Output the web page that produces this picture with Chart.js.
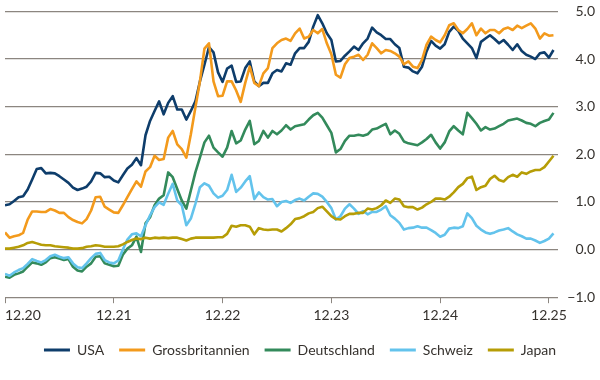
<!DOCTYPE html>
<html>
<head>
<meta charset="utf-8">
<script src="https://cdn.jsdelivr.net/npm/chart.js@4.4.1/dist/chart.umd.min.js"></script>
<style>
  html, body { margin: 0; padding: 0; background: #fff; }
  #wrap { width: 600px; height: 380px; }
</style>
</head>
<body>
<div id="wrap"><canvas id="chart" width="600" height="380"></canvas></div>
<script>
// half-monthly points, index 0 = 12.20
const tickPositions = [0, 24, 48, 72, 96, 120];
const tickLabels    = ['12.20', '12.21', '12.22', '12.23', '12.24', '12.25'];
const seriesNames   = ['USA', 'Grossbritannien', 'Deutschland', 'Schweiz', 'Japan'];

const usa = [
  0.93,0.95,1.02,1.10,1.12,1.26,1.47,1.69,1.71,1.60,1.61,1.60,1.54,1.47,1.40,1.30,1.25,1.28,1.32,1.43,1.61,1.60,1.52,1.53,1.45,
  1.41,1.56,1.70,1.78,1.92,1.77,2.40,2.70,2.91,3.11,2.84,3.08,3.22,2.94,2.94,2.73,2.91,3.11,3.53,3.88,4.25,4.14,3.72,3.52,
  3.80,3.86,3.52,3.53,3.81,3.95,3.53,3.43,3.50,3.50,3.70,3.77,3.74,3.91,3.88,4.12,4.23,4.23,4.36,4.68,4.92,4.75,4.54,4.40,
  3.95,3.96,4.07,4.16,4.26,4.19,4.33,4.43,4.66,4.56,4.50,4.42,4.42,4.31,4.23,3.84,3.82,3.74,3.70,3.84,4.16,4.38,4.28,4.22,
  4.31,4.57,4.68,4.59,4.43,4.33,4.23,4.02,4.36,4.43,4.50,4.42,4.33,4.40,4.30,4.19,4.31,4.17,4.09,4.05,4.00,4.12,4.14,4.03,4.19
];
const uk = [
  0.36,0.25,0.28,0.30,0.35,0.63,0.80,0.80,0.79,0.79,0.85,0.82,0.77,0.77,0.68,0.62,0.58,0.55,0.64,0.82,1.10,1.11,0.90,0.84,0.78,
  0.77,0.93,1.10,1.27,1.43,1.32,1.64,1.73,1.97,1.88,1.90,2.35,2.49,2.21,2.11,1.93,2.42,2.98,3.53,4.22,4.33,3.53,3.22,3.23,
  3.53,3.53,3.34,3.10,3.50,3.84,3.50,3.43,3.70,3.81,4.23,4.33,4.40,4.43,4.38,4.54,4.64,4.43,4.47,4.61,4.54,4.63,4.33,4.10,
  3.67,3.61,3.89,4.02,4.05,4.09,3.98,4.09,4.33,4.23,4.12,4.19,4.17,4.12,4.05,3.89,3.95,3.84,3.81,3.98,4.30,4.47,4.40,4.35,
  4.50,4.71,4.75,4.61,4.54,4.63,4.75,4.50,4.64,4.54,4.61,4.61,4.54,4.63,4.66,4.61,4.70,4.65,4.70,4.75,4.64,4.43,4.54,4.49,4.50
];
const de = [
  -0.57,-0.59,-0.53,-0.50,-0.46,-0.36,-0.27,-0.29,-0.32,-0.27,-0.18,-0.16,-0.19,-0.22,-0.20,-0.36,-0.44,-0.46,-0.36,-0.29,-0.15,-0.14,-0.29,-0.32,-0.35,
  -0.34,-0.11,0.02,0.09,0.27,-0.05,0.55,0.68,0.93,1.07,1.14,1.62,1.52,1.27,1.03,0.86,1.24,1.62,1.93,2.25,2.39,2.14,2.04,1.95,
  2.14,2.49,2.23,2.29,2.52,2.70,2.21,2.28,2.49,2.35,2.49,2.42,2.50,2.61,2.52,2.59,2.61,2.63,2.73,2.82,2.87,2.77,2.61,2.45,
  2.04,2.11,2.28,2.39,2.39,2.41,2.39,2.42,2.52,2.54,2.59,2.64,2.42,2.50,2.43,2.27,2.23,2.21,2.19,2.25,2.32,2.41,2.25,2.12,
  2.25,2.48,2.59,2.50,2.42,2.87,2.76,2.64,2.50,2.57,2.52,2.54,2.59,2.64,2.71,2.73,2.75,2.71,2.66,2.64,2.59,2.66,2.70,2.73,2.87
];
const ch = [
  -0.51,-0.55,-0.48,-0.43,-0.39,-0.30,-0.20,-0.24,-0.27,-0.22,-0.14,-0.11,-0.15,-0.18,-0.16,-0.29,-0.37,-0.39,-0.29,-0.18,-0.09,-0.07,-0.22,-0.27,-0.29,
  -0.23,0.00,0.21,0.32,0.34,0.28,0.51,0.72,0.89,0.99,0.94,1.17,1.38,1.03,0.93,0.51,0.65,0.96,1.31,1.39,1.34,1.18,1.09,1.13,
  1.25,1.57,1.21,1.30,1.43,1.54,1.06,1.20,1.10,1.05,1.06,0.91,1.00,1.02,0.98,1.04,1.07,1.03,1.11,1.18,1.17,1.11,1.00,0.87,
  0.63,0.70,0.86,0.95,0.86,0.75,0.81,0.74,0.79,0.79,0.84,0.91,0.72,0.65,0.56,0.42,0.45,0.46,0.49,0.46,0.46,0.41,0.35,0.27,
  0.31,0.44,0.46,0.45,0.49,0.76,0.66,0.50,0.42,0.36,0.33,0.36,0.40,0.42,0.45,0.38,0.32,0.28,0.23,0.23,0.19,0.14,0.18,0.23,0.34
];
const jp = [
  0.02,0.02,0.04,0.06,0.09,0.14,0.16,0.13,0.10,0.09,0.09,0.07,0.06,0.05,0.04,0.02,0.02,0.03,0.06,0.07,0.09,0.08,0.06,0.06,0.06,
  0.07,0.11,0.16,0.20,0.23,0.22,0.25,0.23,0.25,0.24,0.25,0.24,0.25,0.25,0.22,0.19,0.23,0.25,0.25,0.25,0.25,0.25,0.26,0.26,
  0.33,0.50,0.48,0.51,0.51,0.48,0.32,0.45,0.42,0.41,0.42,0.42,0.38,0.45,0.53,0.64,0.66,0.70,0.76,0.79,0.87,0.90,0.80,0.70,
  0.64,0.63,0.70,0.75,0.75,0.77,0.77,0.86,0.84,0.87,0.93,1.03,0.98,1.07,1.05,0.91,0.89,0.89,0.84,0.88,0.95,1.00,1.07,1.07,
  1.05,1.11,1.20,1.31,1.38,1.50,1.53,1.25,1.31,1.34,1.48,1.55,1.46,1.43,1.52,1.57,1.53,1.62,1.59,1.64,1.67,1.67,1.73,1.85,1.97
];

const COLORS    = ['#0e3d6b', '#f39a1c', '#338a5b', '#63c3ec', '#b69d06'];
const GRID      = '#8c8680';
const TEXT      = '#36322e';
const X_MAX     = 122;

const allSeries = [usa, uk, de, ch, jp];

const datasets = allSeries.map((values, k) => ({
  label: seriesNames[k],
  data: values.map((y, i) => ({ x: i, y })),
  borderColor: COLORS[k],
  backgroundColor: COLORS[k],
  borderWidth: 2.6,
  pointRadius: 0,
  tension: 0,
  borderJoinStyle: 'round',
  order: allSeries.length - k
}));

Chart.defaults.font.family = 'Lato';
Chart.defaults.font.size = 14;
Chart.defaults.color = TEXT;

new Chart(document.getElementById('chart'), {
  type: 'line',
  data: { datasets },
  options: {
    responsive: false,
    animation: false,
    devicePixelRatio: 1,
    layout: { padding: { top: 9, left: 5, right: 5, bottom: 13 } },
    scales: {
      x: {
        type: 'linear',
        min: 0,
        max: X_MAX,
        afterBuildTicks: (axis) => {
          axis.ticks = tickPositions.concat([X_MAX]).map((v) => ({ value: v }));
        },
        ticks: {
          autoSkip: false,
          maxRotation: 0,
          align: 'inner',
          padding: 4,
          callback: (v) => {
            const idx = tickPositions.indexOf(v);
            return idx >= 0 ? tickLabels[idx] : '';
          }
        },
        grid: {
          drawOnChartArea: false,
          drawTicks: true,
          tickLength: 6,
          tickWidth: 1,
          tickColor: (c) => (c.tick && c.tick.value > 120 ? 'rgba(0,0,0,0)' : GRID)
        },
        border: { display: false }
      },
      y: {
        position: 'right',
        min: -1,
        max: 5,
        afterFit: (axis) => { axis.width = 37; },
        ticks: {
          stepSize: 1,
          crossAlign: 'far',
          callback: (v) => (v < 0 ? '\u2212' + Math.abs(v).toFixed(1) : v.toFixed(1))
        },
        grid: { color: GRID, lineWidth: 1.3, drawTicks: false },
        border: { display: false }
      }
    },
    plugins: {
      tooltip: { enabled: false },
      legend: {
        position: 'bottom',
        labels: {
          boxWidth: 26,
          boxHeight: 3,
          padding: 15,
          color: TEXT,
          sort: (a, b) => a.datasetIndex - b.datasetIndex,
          generateLabels: (chart) =>
            Chart.defaults.plugins.legend.labels.generateLabels(chart).map((l) => ({ ...l, lineWidth: 0 }))
        }
      }
    }
  }
});
</script>
</body>
</html>
